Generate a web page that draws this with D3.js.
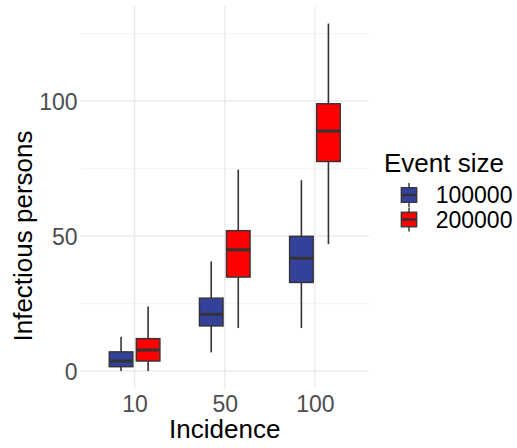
<!DOCTYPE html>
<html>
<head>
<meta charset="utf-8">
<script src="https://cdn.jsdelivr.net/npm/d3@7"></script>
<style>
  body { margin: 0; background: #fff; }
  text { font-family: "Liberation Sans", Arial, sans-serif; }
</style>
</head>
<body>
<div id="chart"></div>
<script>
(function () {

  const incidence = ['10', '50', '100'];
  const eventSizes = ['100000', '200000'];
  const fills = ['#33419A', '#FF0000'];

  // box stats per incidence
  const min100k = [0, 6.9, 15.9];
  const q1_100k = [1.6, 16.7, 32.8];
  const med100k = [3.7, 21, 41.8];
  const q3_100k = [7.1, 27, 49.9];
  const max100k = [12.7, 40.6, 70.7];

  const min200k = [0, 15.9, 47];
  const q1_200k = [3.7, 34.8, 77.6];
  const med200k = [7.8, 44.9, 88.9];
  const q3_200k = [12, 52, 99];
  const max200k = [23.9, 74.6, 128.7];

  const yTicks = [0, 50, 100];
  const yMinor = [25, 75, 125];

  const boxes = [];
  incidence.forEach((inc, i) => {
    boxes.push({ inc, size: eventSizes[0], min: min100k[i], q1: q1_100k[i], med: med100k[i], q3: q3_100k[i], max: max100k[i] });
    boxes.push({ inc, size: eventSizes[1], min: min200k[i], q1: q1_200k[i], med: med200k[i], q3: q3_200k[i], max: max200k[i] });
  });

  const width = 517,
    height = 448,
    panel = { left: 80.5, right: 369, top: 6.2, bottom: 388.4 };

  const x = d3.scalePoint()
    .domain(incidence)
    .range([panel.left, panel.right])
    .padding(0.6);

  const step = x.step();
  const xSub = d3.scaleBand()
    .domain(eventSizes)
    .range([-0.3 * step, 0.3 * step]);
  const boxW = 0.262 * step;

  const yMax = d3.max(max200k), yMin = 0;
  const pad = (yMax - yMin) * 0.05;
  const y = d3.scaleLinear()
    .domain([yMin - pad, yMax + pad])
    .range([panel.bottom, panel.top]);

  const z = d3.scaleOrdinal().domain(eventSizes).range(fills);

  const svg = d3.select('#chart')
    .append('svg')
    .attr('width', width)
    .attr('height', height);

  // grid
  const grid = svg.append('g');
  grid.selectAll('.minor')
    .data(yMinor)
    .enter()
    .append('line')
    .attr('x1', panel.left).attr('x2', panel.right)
    .attr('y1', d => y(d)).attr('y2', d => y(d))
    .attr('stroke', '#F2F2F2')
    .attr('stroke-width', 0.8);
  grid.selectAll('.major')
    .data(yTicks)
    .enter()
    .append('line')
    .attr('x1', panel.left).attr('x2', panel.right)
    .attr('y1', d => y(d)).attr('y2', d => y(d))
    .attr('stroke', '#EBEBEB')
    .attr('stroke-width', 1.4);
  grid.selectAll('.vmajor')
    .data(incidence)
    .enter()
    .append('line')
    .attr('x1', d => x(d)).attr('x2', d => x(d))
    .attr('y1', panel.top).attr('y2', panel.bottom)
    .attr('stroke', '#EBEBEB')
    .attr('stroke-width', 1.4);

  // axes (text only, theme_minimal style)
  const yAxis = svg.append('g')
    .attr('transform', `translate(${panel.left - 3}, 0)`)
    .call(d3.axisLeft(y).tickValues(yTicks).tickSize(0).tickPadding(0));
  yAxis.select('.domain').remove();
  yAxis.selectAll('text')
    .attr('fill', '#4D4D4D')
    .style('font-size', '23px')
    .attr('dy', '0.36em');

  const xAxis = svg.append('g')
    .attr('transform', `translate(0, ${panel.bottom})`)
    .call(d3.axisBottom(x).tickSize(0).tickPadding(0));
  xAxis.select('.domain').remove();
  xAxis.selectAll('text')
    .attr('fill', '#4D4D4D')
    .style('font-size', '23px')
    .attr('dy', null)
    .attr('y', 23.3);

  svg.append('text')
    .attr('x', (panel.left + panel.right) / 2)
    .attr('y', 438.3)
    .attr('text-anchor', 'middle')
    .style('font-size', '26px')
    .attr('fill', '#000')
    .text('Incidence');

  svg.append('text')
    .attr('transform', 'translate(32, 236) rotate(-90)')
    .attr('text-anchor', 'middle')
    .style('font-size', '26px')
    .attr('fill', '#000')
    .text('Infectious persons');

  // boxes
  const bx = d => x(d.inc) + xSub(d.size) + xSub.bandwidth() / 2;

  const box = svg.selectAll('.box')
    .data(boxes)
    .enter()
    .append('g')
    .attr('class', 'box');

  box.append('line')
    .attr('x1', bx).attr('x2', bx)
    .attr('y1', d => y(d.max)).attr('y2', d => y(d.q3))
    .attr('stroke', '#333')
    .attr('stroke-width', 1.6);
  box.append('line')
    .attr('x1', bx).attr('x2', bx)
    .attr('y1', d => y(d.q1)).attr('y2', d => y(d.min))
    .attr('stroke', '#333')
    .attr('stroke-width', 1.6);
  box.append('rect')
    .attr('x', d => bx(d) - boxW / 2)
    .attr('width', boxW)
    .attr('y', d => y(d.q3))
    .attr('height', d => y(d.q1) - y(d.q3))
    .attr('fill', d => z(d.size))
    .attr('stroke', '#333')
    .attr('stroke-width', 1.4);
  box.append('line')
    .attr('x1', d => bx(d) - boxW / 2).attr('x2', d => bx(d) + boxW / 2)
    .attr('y1', d => y(d.med)).attr('y2', d => y(d.med))
    .attr('stroke', '#333')
    .attr('stroke-width', 3);

  // legend
  const legend = svg.append('g').attr('transform', 'translate(384, 0)');
  legend.append('text')
    .attr('x', 0)
    .attr('y', 172)
    .style('font-size', '26px')
    .attr('fill', '#000')
    .text('Event size');

  const key = legend.selectAll('.key')
    .data(eventSizes)
    .enter()
    .append('g')
    .attr('class', 'key')
    .attr('transform', (d, i) => `translate(0, ${183 + i * 24.5})`);

  key.append('line')
    .attr('x1', 25).attr('x2', 25)
    .attr('y1', 0).attr('y2', 24)
    .attr('stroke', '#333')
    .attr('stroke-width', 1.4);
  key.append('rect')
    .attr('x', 17.3).attr('width', 15.4)
    .attr('y', 4.7).attr('height', 14.6)
    .attr('fill', d => z(d))
    .attr('stroke', '#333')
    .attr('stroke-width', 1.3);
  key.append('line')
    .attr('x1', 17.3).attr('x2', 32.7)
    .attr('y1', 12).attr('y2', 12)
    .attr('stroke', '#333')
    .attr('stroke-width', 2.4);
  key.append('text')
    .attr('x', 51.7)
    .attr('y', 20.3)
    .style('font-size', '23px')
    .attr('fill', '#000')
    .text(d => d);

})();
</script>
</body>
</html>
